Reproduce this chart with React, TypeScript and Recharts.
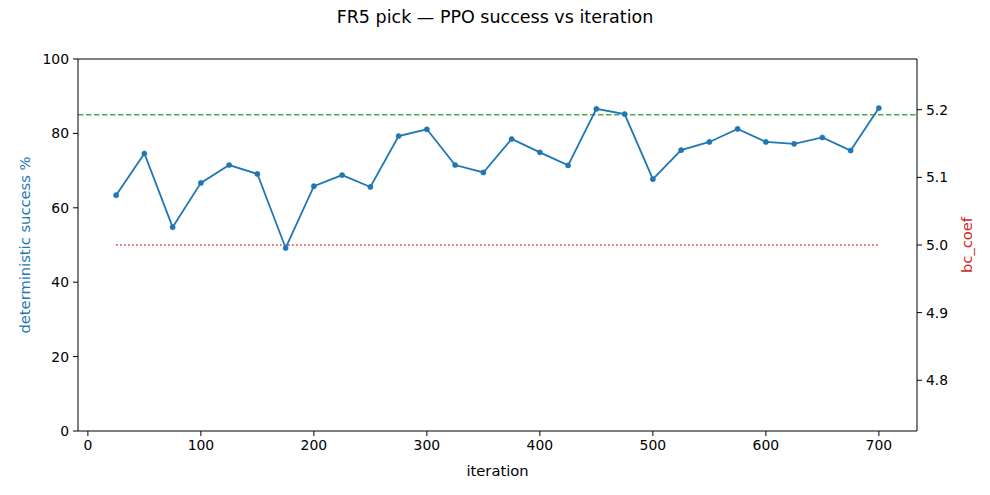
import React from "react";
import {
  ComposedChart,
  Line,
  XAxis,
  YAxis,
  ReferenceLine,
  Label,
} from "recharts";

// PPO evaluation checkpoints
const iterations = [
  25, 50, 75, 100, 125, 150, 175, 200, 225, 250, 275, 300, 325, 350,
  375, 400, 425, 450, 475, 500, 525, 550, 575, 600, 625, 650, 675, 700,
];
const successPct = [
  63.4, 74.6, 54.8, 66.7, 71.5, 69.1, 49.2, 65.8, 68.8, 65.6, 79.3, 81.1,
  71.5, 69.5, 78.5, 74.9, 71.4, 86.6, 85.2, 67.7, 75.5, 77.7, 81.2, 77.7,
  77.2, 78.9, 75.4, 86.8,
];
const bcCoef = [
  5.0, 5.0, 5.0, 5.0, 5.0, 5.0, 5.0, 5.0, 5.0, 5.0, 5.0, 5.0, 5.0, 5.0,
  5.0, 5.0, 5.0, 5.0, 5.0, 5.0, 5.0, 5.0, 5.0, 5.0, 5.0, 5.0, 5.0, 5.0,
];
const targetPct = 85;

const xTicks = [0, 100, 200, 300, 400, 500, 600, 700];
const leftTicks = [0, 20, 40, 60, 80, 100];
const rightTicks = [4.8, 4.9, 5.0, 5.1, 5.2];

const data = iterations.map((it, i) => ({
  iteration: it,
  success: successPct[i],
  bc: bcCoef[i],
}));

const FONT = "'DejaVu Sans', sans-serif";
const BLUE = "#1f77b4";
const RED = "#d62728";
const LABEL_SIZE = 14.7;
const tickStyle = { fill: "#000", fontSize: 13.9, fontFamily: FONT };

const rotatedLabel =
  (text: string, color: string, dx: number) =>
  ({ viewBox }: any) => {
    const x = viewBox.x + dx;
    const y = viewBox.y + viewBox.height / 2;
    return (
      <text
        x={x}
        y={y}
        transform={`rotate(-90, ${x}, ${y})`}
        textAnchor="middle"
        dominantBaseline="central"
        fill={color}
        fontSize={LABEL_SIZE}
        fontFamily={FONT}
      >
        {text}
      </text>
    );
  };

export default function App() {
  return (
    <div
      style={{
        position: "absolute",
        left: 0,
        top: 0,
        width: 990,
        height: 495,
        background: "#fff",
        fontFamily: FONT,
      }}
    >
      <div
        style={{
          position: "absolute",
          top: 7,
          width: 990,
          textAlign: "center",
          fontSize: 17.5,
          color: "#000",
        }}
      >
        FR5 pick — PPO success vs iteration
      </div>
      <ComposedChart
        width={990}
        height={495}
        data={data}
        margin={{ top: 59, right: 0, bottom: 0, left: 0 }}
      >
        <XAxis
          dataKey="iteration"
          type="number"
          domain={[-8.75, 733.75]}
          allowDataOverflow
          ticks={xTicks}
          height={64}
          tickSize={5}
          tickMargin={4}
          tick={tickStyle}
          axisLine={{ stroke: "#000" }}
          tickLine={{ stroke: "#000" }}
        >
          <Label
            value="iteration"
            position="insideBottom"
            offset={19}
            style={{ fill: "#000", fontSize: LABEL_SIZE, fontFamily: FONT }}
          />
        </XAxis>
        <YAxis
          yAxisId="left"
          domain={[0, 100]}
          ticks={leftTicks}
          width={78}
          tickSize={5}
          tickMargin={4}
          tick={tickStyle}
          axisLine={{ stroke: "#000" }}
          tickLine={{ stroke: "#000" }}
        >
          <Label content={rotatedLabel("deterministic success %", BLUE, 24)} />
        </YAxis>
        <YAxis
          yAxisId="right"
          orientation="right"
          domain={[4.725, 5.275]}
          allowDataOverflow
          ticks={rightTicks}
          width={73}
          tickSize={5}
          tickMargin={4}
          tick={tickStyle}
          tickFormatter={(v: number) => v.toFixed(1)}
          axisLine={{ stroke: "#000" }}
          tickLine={{ stroke: "#000" }}
        >
          <Label content={rotatedLabel("bc_coef", RED, 49)} />
        </YAxis>
        {/* top spine */}
        <ReferenceLine yAxisId="left" y={100} stroke="#000" strokeWidth={1} />
        <ReferenceLine
          yAxisId="left"
          y={targetPct}
          stroke="#2ca02c"
          strokeOpacity={0.85}
          strokeWidth={1.4}
          strokeDasharray="5.5 2.5"
        />
        <Line
          yAxisId="right"
          dataKey="bc"
          stroke={RED}
          strokeWidth={1.5}
          strokeDasharray="1.5 2.5"
          dot={false}
          isAnimationActive={false}
        />
        <Line
          yAxisId="left"
          dataKey="success"
          stroke={BLUE}
          strokeWidth={1.8}
          dot={{ r: 2.6, fill: BLUE, stroke: BLUE, strokeWidth: 0.5 }}
          isAnimationActive={false}
        />
      </ComposedChart>
    </div>
  );
}
